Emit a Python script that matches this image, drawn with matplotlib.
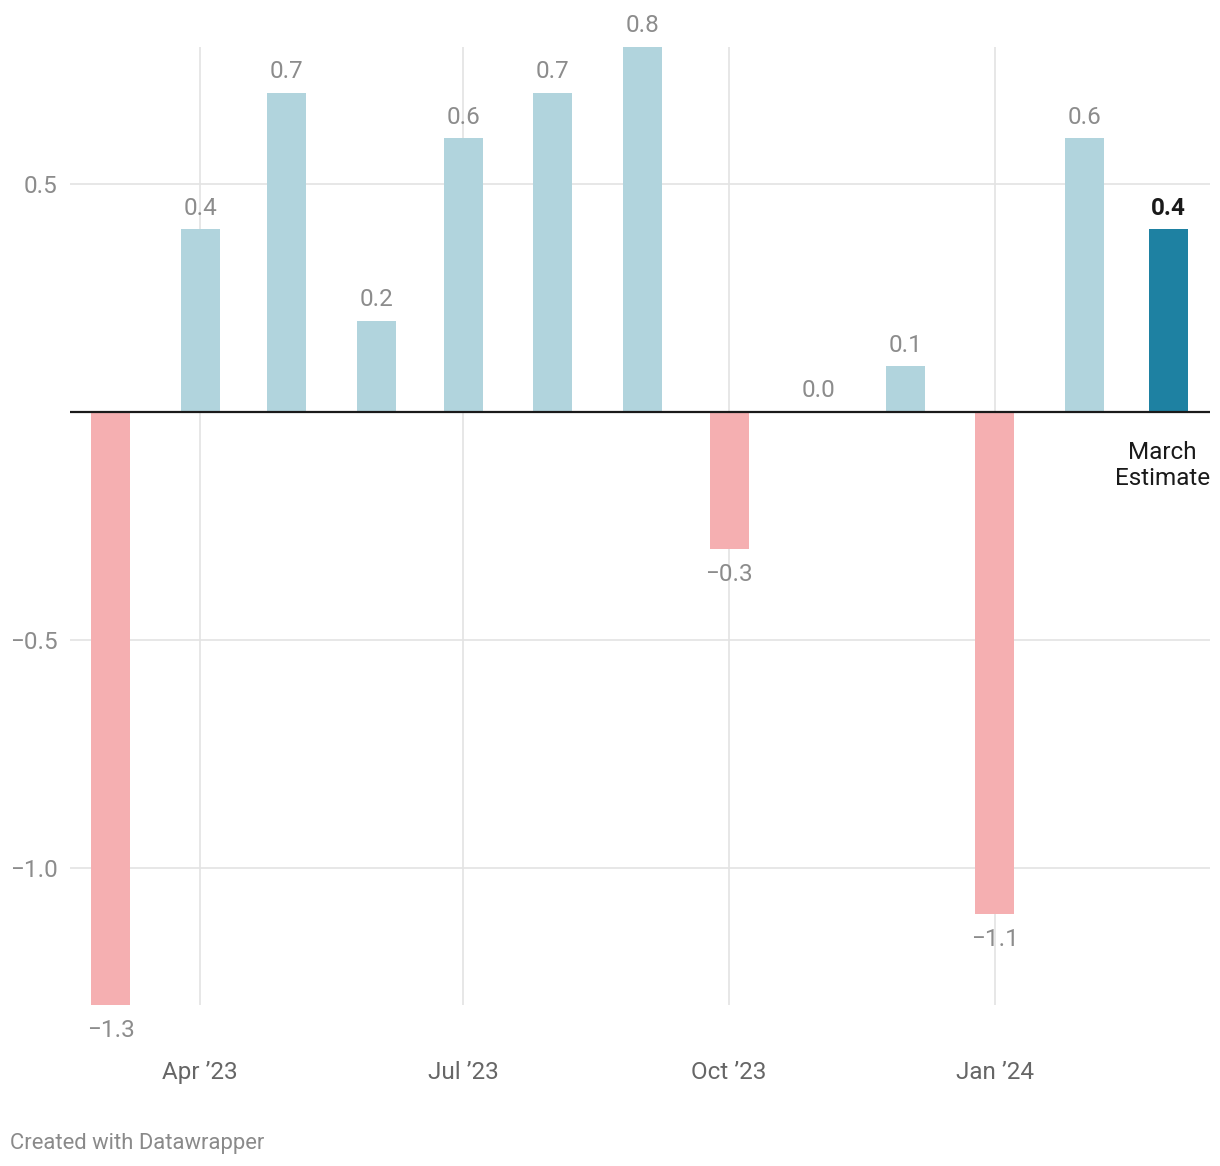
import datetime as dt
import matplotlib
matplotlib.use("Agg")
import matplotlib.pyplot as plt
import matplotlib.dates as mdates

plt.rcParams['font.family'] = ['Roboto', 'DejaVu Sans']

# data
months = [dt.date(2023, m, 1) for m in range(3, 13)] + [dt.date(2024, m, 1) for m in range(1, 4)]
values = [-1.3, 0.4, 0.7, 0.2, 0.6, 0.7, 0.8, -0.3, 0.0, 0.1, -1.1, 0.6, 0.4]
tick_dates = [dt.date(2023, 4, 1), dt.date(2023, 7, 1), dt.date(2023, 10, 1), dt.date(2024, 1, 1)]
tick_labels = ["Apr \u201923", "Jul \u201923", "Oct \u201923", "Jan \u201924"]
y_ticks = [0.5, -0.5, -1.0]
y_tick_labels = ["0.5", "\u22120.5", "\u22121.0"]

pos_color = "#b1d4dd"
neg_color = "#f5afb1"
est_color = "#1e81a2"
label_grey = "#8c8c8c"
fs = 17.5

fig = plt.figure(figsize=(12.2, 11.66), dpi=100)
ax = fig.add_axes([70 / 1220, 1 - 1005 / 1166, 1140 / 1220, 958 / 1166])

colors = []
for i, v in enumerate(values):
    if i == len(values) - 1:
        colors.append(est_color)
    elif v < 0:
        colors.append(neg_color)
    else:
        colors.append(pos_color)

x = mdates.date2num(months)
ax.bar(x, values, width=13.5, color=colors, zorder=2)

# value labels
for i, (xi, v) in enumerate(zip(x, values)):
    txt = f"{v:.1f}".replace("-", "\u2212")
    last = i == len(values) - 1
    if v >= 0:
        ax.annotate(txt, (xi, v), xytext=(0, 7), textcoords="offset points",
                    ha="center", va="bottom", fontsize=fs,
                    color="#1a1a1a" if last else label_grey,
                    fontweight="bold" if last else "normal")
    else:
        ax.annotate(txt, (xi, v), xytext=(0, -10), textcoords="offset points",
                    ha="center", va="top", fontsize=fs, color=label_grey)

ax.text(1.0, -0.063, "March\nEstimate", transform=ax.get_yaxis_transform(), ha="right", va="top",
        multialignment="center", fontsize=fs, color="#1a1a1a", linespacing=1.2)

ax.axhline(0, color="#1a1a1a", lw=1.6, zorder=3)
for y in y_ticks:
    ax.axhline(y, color="#e3e3e3", lw=1.2, zorder=0)
for d in tick_dates:
    ax.axvline(mdates.date2num(d), color="#e3e3e3", lw=1.2, zorder=0)

ax.set_xlim(x[0] - 14, x[-1] + 14.4)
ax.set_ylim(-1.3, 0.8)

ax.set_xticks(mdates.date2num(tick_dates))
ax.set_xticklabels(tick_labels, fontsize=fs, color="#666666")
ax.set_yticks(y_ticks)
ax.set_yticklabels(y_tick_labels, fontsize=fs, color=label_grey)
ax.tick_params(axis="x", length=0, pad=40)
ax.tick_params(axis="y", length=0, pad=9)

for s in ax.spines.values():
    s.set_visible(False)

fig.text(10 / 1220, 1 - 1143 / 1166, "Created with Datawrapper", fontsize=15.8,
         color="#8a8a8a", ha="left", va="center")

fig.savefig("out.png", dpi=100, facecolor="white")
